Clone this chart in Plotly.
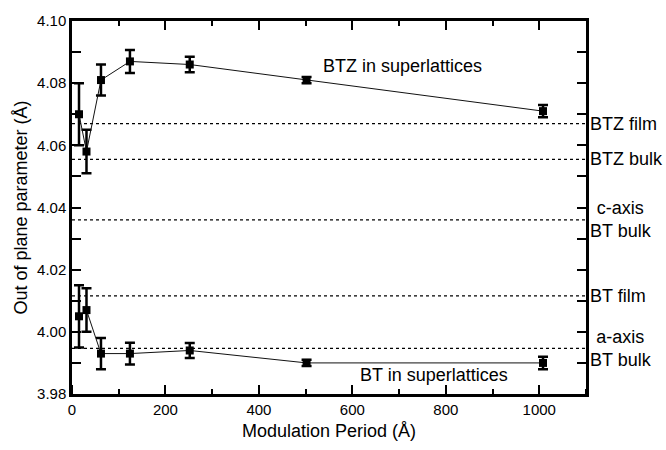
import plotly.graph_objects as go

# ---- data ----
period = [15, 31, 62, 124, 252, 502, 1008]
btz_values = [4.070, 4.058, 4.081, 4.087, 4.086, 4.081, 4.071]
btz_errors = [0.010, 0.007, 0.005, 0.0037, 0.0025, 0.001, 0.002]
bt_values = [4.005, 4.007, 3.993, 3.993, 3.994, 3.990, 3.990]
bt_errors = [0.010, 0.007, 0.005, 0.0035, 0.0024, 0.001, 0.002]

ref_values = [4.067, 4.0555, 4.036, 4.0116, 3.9947]
ref_labels = ["BTZ film", "BTZ bulk", "c-axis<br>BT bulk", "BT film", "a-axis<br>BT bulk"]

x_tick_vals = [0, 200, 400, 600, 800, 1000]
y_tick_vals = [3.98, 4.00, 4.02, 4.04, 4.06, 4.08, 4.10]

FONT = "Liberation Sans, Arial, sans-serif"

fig = go.Figure()

for vals, errs in [(btz_values, btz_errors), (bt_values, bt_errors)]:
    fig.add_trace(go.Scatter(
        x=period, y=vals, mode="lines+markers",
        line=dict(color="#111111", width=1),
        marker=dict(symbol="square", size=8, color="black"),
        error_y=dict(type="data", array=errs, visible=True,
                     color="black", thickness=2.5, width=5),
        showlegend=False,
    ))

# invisible trace so the helper bottom-tick axis gets drawn
fig.add_trace(go.Scatter(x=period, y=bt_values, xaxis="x2", mode="markers",
                         marker=dict(opacity=0), hoverinfo="skip", showlegend=False))

for v in ref_values:
    fig.add_shape(type="line", xref="paper", x0=0, x1=1, yref="y", y0=v, y1=v,
                  line=dict(color="black", width=1.3, dash="dot"), layer="below")

for v, lab in zip(ref_values, ref_labels):
    fig.add_annotation(xref="paper", x=1, yref="y", y=v, text=lab,
                       showarrow=False, xanchor="left", align="center",
                       xshift=2, font=dict(family=FONT, size=18, color="black"))

fig.add_annotation(x=708, y=4.0855, text="BTZ in superlattices", showarrow=False,
                   font=dict(family=FONT, size=18, color="black"))
fig.add_annotation(x=775, y=3.986, text="BT in superlattices", showarrow=False,
                   font=dict(family=FONT, size=18, color="black"))

axis_common = dict(
    showline=True, linewidth=2.5, linecolor="black", mirror="allticks",
    ticks="inside", ticklen=9, tickwidth=2, tickcolor="black",
    showgrid=False, zeroline=False,
    tickfont=dict(family=FONT, size=15, color="black"),
)

fig.update_xaxes(
    range=[0, 1100], tickvals=x_tick_vals,
    minor=dict(dtick=100, ticks="inside", ticklen=5, tickwidth=2, tickcolor="black", showgrid=False),
    title=dict(text="Modulation Period (Å)", font=dict(family=FONT, size=18, color="black"), standoff=8),
    **axis_common,
)
fig.update_yaxes(
    range=[3.98, 4.10], tickvals=y_tick_vals, tickformat=".2f",
    minor=dict(dtick=0.01, ticks="inside", ticklen=5, tickwidth=2, tickcolor="black", showgrid=False),
    title=dict(text="Out of plane parameter (Å)", font=dict(family=FONT, size=18, color="black"), standoff=5),
    **axis_common,
)

fig.update_layout(
    width=666, height=450,
    margin=dict(l=72, r=80, t=15, b=56),
    paper_bgcolor="white", plot_bgcolor="white",
    font=dict(family=FONT, color="black"),
    xaxis2=dict(overlaying="x", matches="x", anchor="free", position=0, side="top",
                tickvals=x_tick_vals, showticklabels=False, showline=False,
                ticks="outside", ticklen=9, tickwidth=2, tickcolor="black",
                minor=dict(dtick=100, ticks="outside", ticklen=5, tickwidth=2, tickcolor="black"),
                showgrid=False, zeroline=False),
)

fig.write_html("out.html")
